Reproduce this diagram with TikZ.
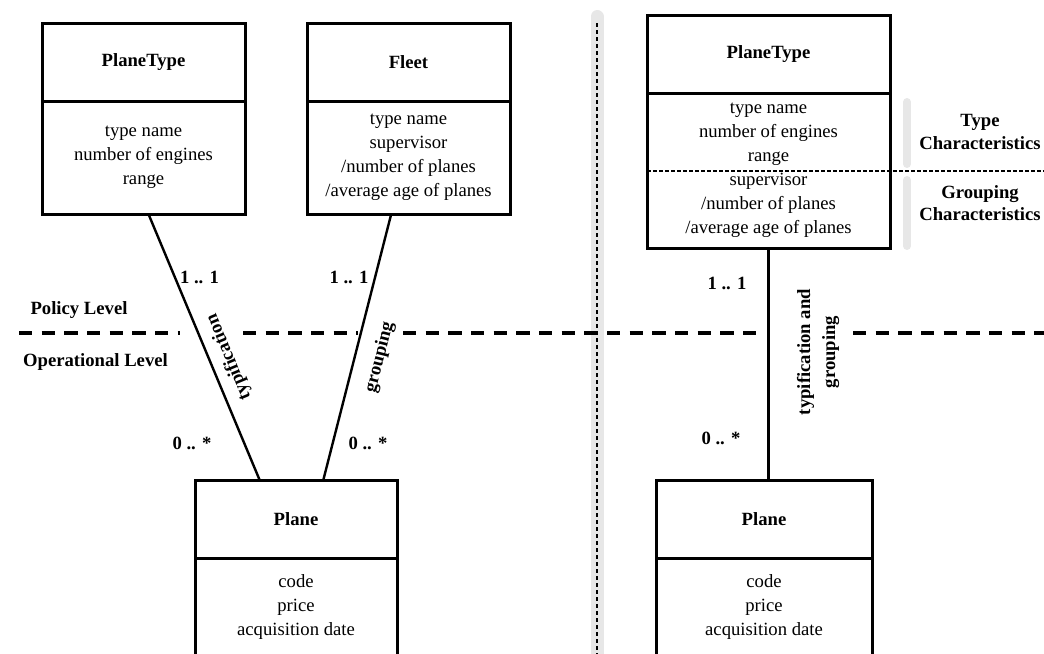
\documentclass[tikz,border=0pt]{standalone}
\usepackage{fontspec}
\setmainfont{Liberation Serif}
\usetikzlibrary{positioning}

\definecolor{bandgrey}{RGB}{231,231,231}
\newcommand{\bodysize}{\fontsize{14}{18}\selectfont}

\tikzset{
  classname/.style={rectangle, draw, line width=2.25pt, outer sep=0pt, inner sep=0pt,
    minimum height=58.5pt, font=\bodysize\bfseries, align=center},
  classattr/.style={rectangle, draw, line width=2.25pt, outer sep=0pt, inner sep=0pt,
    font=\bodysize, align=center},
  assoc/.style={line width=1.8pt},
  mult/.style={font=\bodysize\bfseries},
  assoclabel/.style={font=\bodysize\bfseries, align=center, inner sep=2pt},
  levelline/.style={line width=2.6pt, dash pattern=on 10pt off 7pt},
  sidelabel/.style={font=\fontsize{14}{17}\selectfont\bfseries, align=center},
  greybar/.style={line width=6pt, line cap=round, color=bandgrey}
}

\begin{document}
\begin{tikzpicture}[x=0.75pt, y=-0.75pt, font=\bodysize]
\useasboundingbox (0,0) rectangle (1044,653);

% separator between the two variants
\draw[line width=9.75pt, line cap=round, color=bandgrey] (597,16.5) -- (597,700);
\draw[line width=1.1pt, dash pattern=on 3pt off 2.25pt] (597,23) -- (597,700);

% policy / operational border
\draw[levelline] (19,333) -- (180,333);
\draw[levelline] (243,333) -- (358,333);
\draw[levelline] (403,333) -- (760,333);
\draw[levelline] (853,333) -- (1044,333);
\node[font=\bodysize\bfseries] (policy) at (79,310) {Policy Level};
\node[font=\bodysize\bfseries] (operational) at (95.5,362) {Operational Level};

% left variant
\node[classname, minimum width=152.25pt] (ptname) at (143.5,62) {PlaneType};
\node[classattr, minimum width=152.25pt, minimum height=84.75pt, below=0pt of ptname] (ptattr)
  {type name\\number of engines\\range};
\node[classname, minimum width=152.25pt] (flname) at (408.5,62) {Fleet};
\node[classattr, minimum width=152.25pt, minimum height=84.75pt, below=0pt of flname] (flattr)
  {type name\\supervisor\\/number of planes\\/average age of planes};
\node[classname, minimum width=151.5pt] (plname) at (296,519) {Plane};
\node[classattr, minimum width=151.5pt, minimum height=73.5pt, below=0pt of plname] (plattr)
  {code\\price\\acquisition date};

\draw[assoc] (plname.133) -- node[assoclabel, sloped, allow upside down, below=5pt, pos=0.435] {typification} (ptattr.-85);
\draw[assoc] (plname.55) -- node[assoclabel, sloped, below=9pt, pos=0.483] {grouping} (flattr.-107);

\node[mult] (ptmult) at (199.5,277) {1 .. 1};
\node[mult] (flmult) at (349,277) {1 .. 1};
\node[mult] (pltmult) at (192,443) {0 .. *};
\node[mult] (plgmult) at (368,443) {0 .. *};

% right variant
\node[classname, minimum width=182.25pt] (rptname) at (768.5,54) {PlaneType};
\node[classattr, minimum width=182.25pt, minimum height=116.25pt, below=0pt of rptname] (rptattr)
  {type name\\number of engines\\range\\supervisor\\/number of planes\\/average age of planes};
\node[classname, minimum width=162pt] (rplname) at (764,519) {Plane};
\node[classattr, minimum width=162pt, minimum height=73.5pt, below=0pt of rplname] (rplattr)
  {code\\price\\acquisition date};

\draw[line width=1.1pt, dash pattern=on 3pt off 1.5pt] (647,171) -- (1044,171);
\draw[greybar] (907,102) -- (907,164);
\draw[greybar] (907,180) -- (907,246);
\node[sidelabel] (typechar) at (980,132) {Type\\Characteristics};
\node[sidelabel] (groupchar) at (980,203) {Grouping\\Characteristics};

\draw[assoc] (rptattr.south) -- (rptattr.south |- rplname.north);
\node[assoclabel, rotate=90, font=\fontsize{14}{18.75}\selectfont\bfseries] (tglabel) at (818,352)
  {typification and\\grouping};
\node[mult] (rptmult) at (727,283) {1 .. 1};
\node[mult] (rplmult) at (721,438) {0 .. *};
\end{tikzpicture}
\end{document}
